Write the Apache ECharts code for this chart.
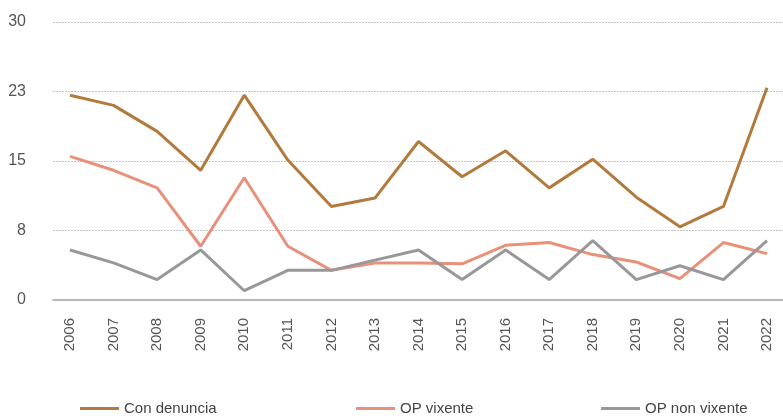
<!DOCTYPE html>
<html>
<head>
<meta charset="utf-8">
<script src="https://cdn.jsdelivr.net/npm/echarts@6/dist/echarts.min.js"></script>
<style>html,body{margin:0;padding:0;background:#fff}#c{width:783px;height:416px}</style>
</head>
<body>
<div id="c"></div>
<script>
var years = ['2006','2007','2008','2009','2010','2011','2012','2013','2014','2015','2016','2017','2018','2019','2020','2021','2022'];
var conDenuncia = [22.1, 21.0, 18.2, 14.0, 22.1, 15.1, 10.1, 11.0, 17.1, 13.3, 16.1, 12.1, 15.2, 11.1, 7.9, 10.1, 22.9];
var opVixente = [15.5, 14.0, 12.1, 5.8, 13.2, 5.8, 3.2, 4.0, 4.0, 3.9, 5.9, 6.2, 4.9, 4.1, 2.3, 6.2, 5.0];
var opNonVixente = [5.4, 4.0, 2.2, 5.4, 1.0, 3.2, 3.2, 4.3, 5.4, 2.2, 5.4, 2.2, 6.4, 2.2, 3.7, 2.2, 6.4];
var yTicks = [0, 7.5, 15, 22.5, 30];

var FONT = '"Liberation Sans Narrow", "Arial Narrow", "Liberation Sans", sans-serif';
var cBrown = '#b27a3d', cSalmon = '#e8917a', cGray = '#98989b';
var chart = echarts.init(document.getElementById('c'));
function leg(name, left) {
  return {
    data: [name], left: left, top: 401, padding: 0, icon: 'rect', itemWidth: 39, itemHeight: 3, itemGap: 0,
    textStyle: {fontFamily: FONT, fontSize: 15, color: '#444', padding: [0,0,0,0]}, selectedMode: false
  };
}
chart.setOption({
  animation: false,
  grid: [
    {left: 53, right: 0, top: 22, height: 278},
    {left: 70, right: 16, top: 22, height: 278}
  ],
  legend: [leg('Con denuncia', 80), leg('OP vixente', 356), leg('OP non vixente', 601)],
  xAxis: [
    {gridIndex: 0, type: 'value', min: 0, max: 1, show: true, axisLine: {show: true, lineStyle: {color: '#b9b9b9', width: 2}},
     axisTick: {show: false}, axisLabel: {show: false}, splitLine: {show: false}},
    {gridIndex: 1, type: 'category', data: years, boundaryGap: false,
     axisLine: {show: false}, axisTick: {show: false},
     axisLabel: {rotate: 90, margin: 18, fontFamily: FONT, fontSize: 15, color: '#555', interval: 0},
     splitLine: {show: false}}
  ],
  yAxis: [
    {gridIndex: 0, type: 'value', min: 0, max: 30, interval: 7.5,
     axisLine: {show: false}, axisTick: {show: false},
     axisLabel: {margin: 27, fontFamily: FONT, fontSize: 16, color: '#555', formatter: function (v) { return Math.round(v); }},
     splitLine: {show: true, lineStyle: {color: '#c4c4c4', type: [2, 1], width: 1}}},
    {gridIndex: 1, type: 'value', min: 0, max: 30, interval: 7.5, show: false, splitLine: {show: false}}
  ],
  series: [
    {name: 'Con denuncia', type: 'line', xAxisIndex: 1, yAxisIndex: 1, data: conDenuncia, symbol: 'none',
     lineStyle: {color: cBrown, width: 3}, itemStyle: {color: cBrown}, z: 3},
    {name: 'OP vixente', type: 'line', xAxisIndex: 1, yAxisIndex: 1, data: opVixente, symbol: 'none',
     lineStyle: {color: cSalmon, width: 3}, itemStyle: {color: cSalmon}, z: 2},
    {name: 'OP non vixente', type: 'line', xAxisIndex: 1, yAxisIndex: 1, data: opNonVixente, symbol: 'none',
     lineStyle: {color: cGray, width: 3}, itemStyle: {color: cGray}, z: 4}
  ]
});
</script>
</body>
</html>
